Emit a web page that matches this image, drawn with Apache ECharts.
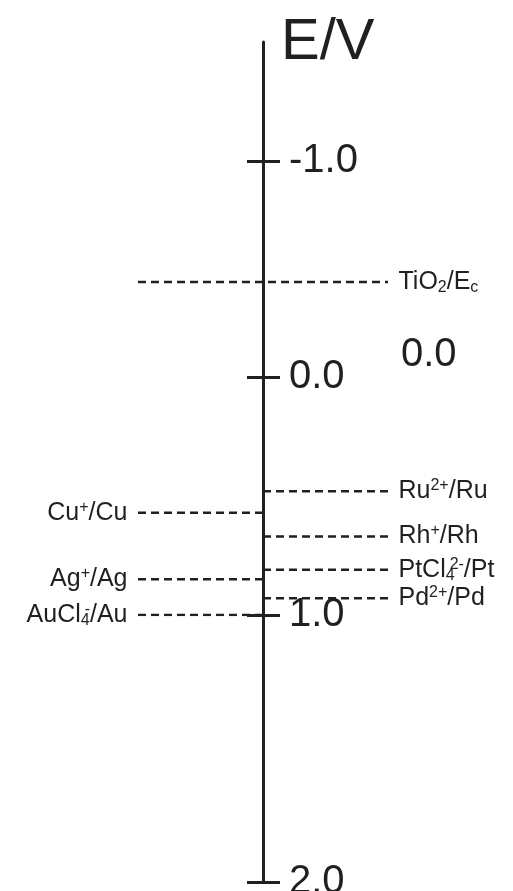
<!DOCTYPE html>
<html>
<head>
<meta charset="utf-8">
<script src="https://cdn.jsdelivr.net/npm/echarts@6/dist/echarts.min.js"></script>
<style>
  html, body { margin: 0; padding: 0; background: #fff; }
  #chart { width: 513px; height: 891px; }
</style>
</head>
<body>
<div id="chart"></div>
<script>
// redox levels vs E (V)
const leftNames = ['Cu{sup|+}/Cu', 'Ag{sup|+}/Ag', 'AuCl{sub4|4}{sup|-}/Au']
const leftValues = [0.57, 0.85, 1.0]
const rightNames = ['Ru{sup|2+}/Ru', 'Rh{sup|+}/Rh', 'PtCl{sub4|4}{sup|2-}/Pt', 'Pd{sup|2+}/Pd']
const rightValues = [0.48, 0.67, 0.81, 0.93]
const spanNames = ['TiO{sub|2}/E{sub|c}']
const spanValues = [-0.44]

// the printed scale is not linear, so every unit gets its own panel
const segmentBounds = [-1.55, 0, 1, 2]
const tickValues = [-1, 0, 1, 2]

const INK = '#231f20'
const FONT = '"Liberation Sans", Arial, Helvetica, sans-serif'

const gridTops = [42, 377, 615]
const gridHeights = [335, 238, 267]

const chart = echarts.init(document.getElementById('chart'))

const rich = {
  sup: { fontSize: 16, fontFamily: FONT, color: INK, verticalAlign: 'top', lineHeight: 19 },
  sub: { fontSize: 16, fontFamily: FONT, color: INK, verticalAlign: 'bottom', lineHeight: 6 },
  // subscript 4 sits under the charge, so let the next token overlap it
  sub4: { fontSize: 16, fontFamily: FONT, color: INK, verticalAlign: 'bottom', lineHeight: 6, padding: [0, -5, 0, 0] },
}

function segmentOf(v) {
  for (let i = 0; i < segmentBounds.length - 1; i++) {
    if (v >= segmentBounds[i] && v <= segmentBounds[i + 1]) return i
  }
  return 0
}

function levelLabel(position, text) {
  return {
    show: true,
    position: position,
    distance: 10,
    formatter: text,
    color: INK,
    fontSize: 25,
    lineHeight: 27,
    fontFamily: FONT,
    rich: rich,
  }
}

function levelSeries(text, v, x0, x1, side) {
  const g = segmentOf(v)
  return {
    type: 'line',
    xAxisIndex: g,
    yAxisIndex: g * 2,
    silent: true,
    symbol: 'circle',
    symbolSize: 1,
    showSymbol: true,
    itemStyle: { color: 'rgba(0,0,0,0)' },
    lineStyle: { color: INK, width: 2.5, type: [8, 5] },
    label: { show: false },
    data: [
      side === 'left' ? { value: [x0, v], label: levelLabel('left', text) } : { value: [x0, v] },
      side === 'right' ? { value: [x1, v], label: levelLabel('right', text) } : { value: [x1, v] },
    ],
  }
}

const grids = []
const xAxes = []
const yAxes = []
for (let i = 0; i < 3; i++) {
  const lo = segmentBounds[i]
  const hi = segmentBounds[i + 1]
  const last = i === 2
  const ticks = tickValues.filter(function (v) {
    return v >= lo && (v < hi || (last && v <= hi))
  })
  grids.push({ left: 138, width: 250, top: gridTops[i], height: gridHeights[i], outerBoundsMode: 'none' })
  xAxes.push({ gridIndex: i, type: 'value', min: -1, max: 1, show: false })
  // right half of the cross ticks + labels
  yAxes.push({
    gridIndex: i,
    type: 'value',
    inverse: true,
    min: lo,
    max: hi,
    position: 'left',
    offset: -125,
    axisLine: { show: true, onZero: false, lineStyle: { color: INK, width: 3 } },
    axisTick: { show: true, inside: true, length: 17, customValues: ticks, lineStyle: { color: INK, width: 3 } },
    axisLabel: {
      show: true,
      inside: true,
      margin: 26,
      customValues: ticks,
      showMinLabel: true,
      showMaxLabel: true,
      color: INK,
      fontSize: 40,
      fontFamily: FONT,
      formatter: function (v) {
        return v.toFixed(1)
      },
    },
    splitLine: { show: false },
  })
  // left half of the cross ticks
  yAxes.push({
    gridIndex: i,
    type: 'value',
    inverse: true,
    min: lo,
    max: hi,
    position: 'left',
    offset: -125,
    axisLine: { show: false, onZero: false },
    axisTick: { show: true, inside: false, length: 16, customValues: ticks, lineStyle: { color: INK, width: 3 } },
    axisLabel: { show: false },
    splitLine: { show: false },
  })
}

const series = []
leftNames.forEach(function (n, i) {
  series.push(levelSeries(n, leftValues[i], -1, 0, 'left'))
})
rightNames.forEach(function (n, i) {
  series.push(levelSeries(n, rightValues[i], 0, 1, 'right'))
})
spanNames.forEach(function (n, i) {
  series.push(levelSeries(n, spanValues[i], -1, 1, 'right'))
})

const option = {
  animation: false,
  backgroundColor: '#fff',
  grid: grids,
  xAxis: xAxes,
  yAxis: yAxes,
  series: series,
  graphic: [
    {
      type: 'text',
      x: 281,
      y: 43,
      style: { text: 'E/V', fill: INK, font: '58px ' + FONT, textAlign: 'left', textVerticalAlign: 'middle' },
    },
    {
      type: 'text',
      x: 401,
      y: 355,
      style: { text: '0.0', fill: INK, font: '40px ' + FONT, textAlign: 'left', textVerticalAlign: 'middle' },
    },
  ],
}
chart.setOption(option)
</script>
</body>
</html>
